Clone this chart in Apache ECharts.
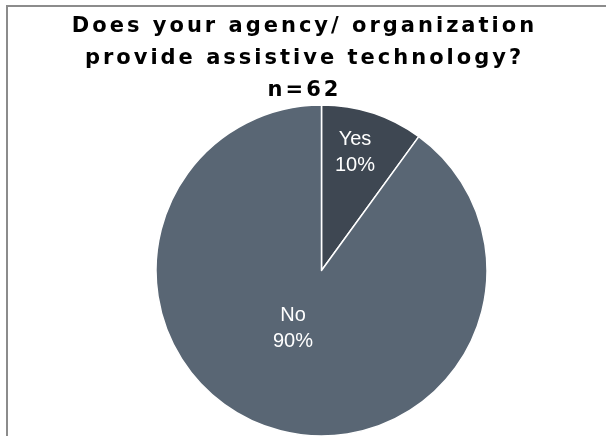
<!DOCTYPE html>
<html>
<head>
<meta charset="utf-8">
<script src="https://cdn.jsdelivr.net/npm/echarts@6/dist/echarts.min.js"></script>
<style>
html,body{margin:0;padding:0;background:#fff;}
#chart{width:606px;height:436px;}
</style>
</head>
<body>
<div id="chart"></div>
<script>
const titleLines = ['Does your agency/ organization', 'provide assistive technology?', 'n=62'];
const categories = ['Yes', 'No'];
const values = [10, 90];
const colors = ['#3e4752', '#596674'];

// Emulate the wide letter spacing of the bold title text
(function(){
  const proto = CanvasRenderingContext2D.prototype;
  const orig = proto.fillText;
  proto.fillText = function(t, x, y, m){
    if ('letterSpacing' in this && /bold/.test(this.font)) {
      const prev = this.letterSpacing;
      this.letterSpacing = '3px';
      const r = m === undefined ? orig.call(this, t, x + 1.5, y) : orig.call(this, t, x + 1.5, y, m);
      this.letterSpacing = prev;
      return r;
    }
    return m === undefined ? orig.call(this, t, x, y) : orig.call(this, t, x, y, m);
  };
})();

const labelOffsets = [[7, -36], [-2, -24]];

const chart = echarts.init(document.getElementById('chart'), null, {renderer: 'canvas'});
chart.setOption({
  animation: false,
  backgroundColor: '#fff',
  title: {
    text: titleLines.join('\n'),
    left: 'center',
    top: 11,
    padding: 0,
    textStyle: {
      fontFamily: '"DejaVu Sans", sans-serif',
      fontWeight: 'bold',
      fontSize: 21,
      lineHeight: 32,
      color: '#000'
    }
  },
  graphic: [{
    type: 'polyline',
    silent: true,
    shape: {points: [[7, 436], [7, 6], [606, 6]]},
    style: {stroke: '#8c8c8c', lineWidth: 2, fill: null}
  }],
  series: [{
    type: 'pie',
    center: [321.5, 270.5],
    radius: [0, 165.5],
    startAngle: 90,
    clockwise: true,
    data: categories.map((c, i) => ({name: c, value: values[i], itemStyle: {color: colors[i]}})),
    itemStyle: {borderColor: '#fff', borderWidth: 1.5},
    label: {
      show: true,
      position: 'inside',
      formatter: p => p.name + '\n' + Math.round(p.percent) + '%',
      color: '#fff',
      fontFamily: '"Liberation Sans", Arial, sans-serif',
      fontSize: 20,
      lineHeight: 26,
      fontWeight: 'normal'
    },
    labelLine: {show: false},
    labelLayout: function(params){
      const o = labelOffsets[params.dataIndex];
      return {dx: o[0], dy: o[1]};
    },
    emphasis: {disabled: true}
  }]
});
</script>
</body>
</html>
